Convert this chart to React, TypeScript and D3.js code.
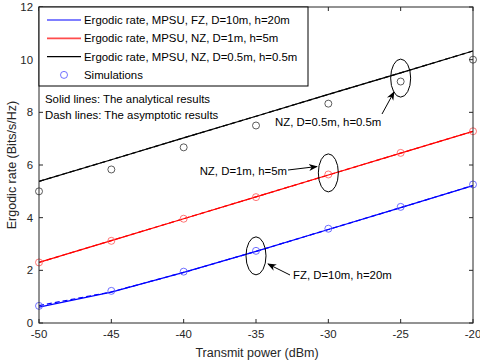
import React from "react";
import * as d3 from "d3";

const powers = [-50, -45, -40, -35, -30, -25, -20];
const fzAnalytical = [0.6, 1.17, 1.92, 2.72, 3.55, 4.38, 5.22];
const fzAsymptotic = [0.66, 1.18, 1.92, 2.72, 3.55, 4.38, 5.22];
const fzSim = [0.65, 1.22, 1.95, 2.74, 3.58, 4.41, 5.26];
const nz1Analytical = [2.3, 3.13, 3.96, 4.79, 5.62, 6.45, 7.28];
const nz1Asymptotic = [2.3, 3.13, 3.96, 4.79, 5.62, 6.45, 7.28];
const nz1Sim = [2.3, 3.12, 3.96, 4.78, 5.64, 6.46, 7.28];
const nz05Analytical = [5.38, 6.2, 7.03, 7.85, 8.68, 9.5, 10.33];
const nz05Asymptotic = [5.38, 6.2, 7.03, 7.85, 8.68, 9.5, 10.33];
const nz05Sim = [5.0, 5.83, 6.67, 7.5, 8.33, 9.17, 10.0];
const xTicks = [-50, -45, -40, -35, -30, -25, -20];
const yTicks = [0, 2, 4, 6, 8, 10, 12];
const legendLabels = [
  "Ergodic rate, MPSU, FZ, D=10m, h=20m",
  "Ergodic rate, MPSU, NZ, D=1m, h=5m",
  "Ergodic rate, MPSU, NZ, D=0.5m, h=0.5m",
  "Simulations",
];

const W = 480, H = 362;
const L = 39, R = 473, T = 7, B = 323;
const FONT = "'Liberation Sans', Arial, sans-serif";
const AX = "#262626";
const FS = 11.4;

export default function App() {
  const x = d3.scaleLinear().domain([-50, -20]).range([L, R]);
  const y = d3.scaleLinear().domain([0, 12]).range([B, T]);
  const line = d3.line<number>().x((_, i) => x(powers[i])).y((d) => y(d));

  const series = [
    { a: fzAnalytical, s: fzAsymptotic, sim: fzSim, c: "#0000ff", sc: "#4d4dff" },
    { a: nz1Analytical, s: nz1Asymptotic, sim: nz1Sim, c: "#ff0000", sc: "#ff5555" },
    { a: nz05Analytical, s: nz05Asymptotic, sim: nz05Sim, c: "#000000", sc: "#333333" },
  ];

  const ann = [
    { cx: x(-25), cy: y(9.3), text: "NZ, D=0.5m, h=0.5m", tx: 275, ty: 126, ax0: 382, ay0: 114, ax1: 394, ay1: 92, anchor: "start" },
    { cx: x(-30), cy: y(5.7), text: "NZ, D=1m, h=5m", tx: 287, ty: 175, ax0: 288, ay0: 170, ax1: 317, ay1: 166.5, anchor: "end" },
    { cx: x(-35), cy: y(2.55), text: "FZ, D=10m, h=20m", tx: 293, ty: 279, ax0: 290, ay0: 275, ax1: 268, ay1: 264, anchor: "start" },
  ];

  return (
    <svg width={W} height={H} style={{ position: "absolute", left: 0, top: 0, background: "#fff" }} fontFamily={FONT}>
      <defs>
        <clipPath id="plot">
          <rect x={L} y={T} width={R - L} height={B - T} />
        </clipPath>
        <marker id="arr" viewBox="0 0 10 10" refX="9" refY="5" markerWidth="9" markerHeight="9" orient="auto" markerUnits="userSpaceOnUse">
          <path d="M0,1 L10,5 L0,9 L3,5 Z" fill="#000" />
        </marker>
      </defs>
      <rect width={W} height={H} fill="#fff" />
      {xTicks.map((t) => (
        <g key={"xt" + t}>
          <line x1={x(t)} x2={x(t)} y1={B} y2={B - 4} stroke={AX} />
          <line x1={x(t)} x2={x(t)} y1={T} y2={T + 4} stroke={AX} />
          <text x={x(t)} y={B + 15} textAnchor="middle" fontSize={FS} fill={AX}>{t}</text>
        </g>
      ))}
      {yTicks.map((t) => (
        <g key={"yt" + t}>
          <line x1={L} x2={L + 4} y1={y(t)} y2={y(t)} stroke={AX} />
          <line x1={R} x2={R - 4} y1={y(t)} y2={y(t)} stroke={AX} />
          <text x={L - 6} y={y(t) + 4} textAnchor="end" fontSize={FS} fill={AX}>{t}</text>
        </g>
      ))}
      <g clipPath="url(#plot)">
        {series.map((s, i) => (
          <g key={"s" + i}>
            <path d={line(s.s) || ""} fill="none" stroke={s.c} strokeWidth={1.2} strokeDasharray="5,3" />
            <path d={line(s.a) || ""} fill="none" stroke={s.c} strokeWidth={1.2} />
          </g>
        ))}
      </g>
      {series.map((s, i) =>
        s.sim.map((v, j) => (
          <circle key={"c" + i + "-" + j} cx={x(powers[j])} cy={y(v)} r={3.5} fill="none" stroke={s.sc} strokeWidth={0.8} />
        ))
      )}
      {ann.map((a, i) => (
        <g key={"a" + i}>
          <ellipse cx={a.cx} cy={a.cy} rx={10} ry={19} fill="none" stroke="#000" strokeWidth={1} />
          <line x1={a.ax0} y1={a.ay0} x2={a.ax1} y2={a.ay1} stroke="#000" strokeWidth={1} markerEnd="url(#arr)" />
          <text x={a.tx} y={a.ty} textAnchor={a.anchor as any} fontSize={FS} fill="#000">{a.text}</text>
        </g>
      ))}
      <rect x={L} y={T} width={R - L} height={B - T} fill="none" stroke={AX} strokeWidth={1} />
      <rect x={L} y={T} width={269} height={79} fill="#fff" stroke="#000" strokeWidth={1} />
      {legendLabels.map((lab, i) => {
        const ly = T + 13 + i * 18.3;
        return (
          <g key={"l" + i}>
            {i < 3 ? (
              <line x1={47} x2={81} y1={ly} y2={ly} stroke={series[i].c} strokeWidth={i === 1 ? 1.8 : 1.2} strokeOpacity={i === 1 ? 0.7 : 1} />
            ) : (
              <circle cx={64} cy={ly} r={3.5} fill="none" stroke="#4d4dff" strokeWidth={0.8} />
            )}
            <text x={84} y={ly + 4} fontSize={FS} fill="#000">{lab}</text>
          </g>
        );
      })}
      <text x={45} y={103} fontSize={FS} fill="#000">Solid lines: The analytical results</text>
      <text x={45} y={118.5} fontSize={FS} fill="#000">Dash lines: The asymptotic results</text>
      <text x={257} y={357} textAnchor="middle" fontSize={12.5} fill={AX}>Transmit power (dBm)</text>
      <text transform={`translate(16,${(T + B) / 2}) rotate(-90)`} textAnchor="middle" fontSize={12.5} fill={AX}>Ergodic rate (Bits/s/Hz)</text>
    </svg>
  );
}
